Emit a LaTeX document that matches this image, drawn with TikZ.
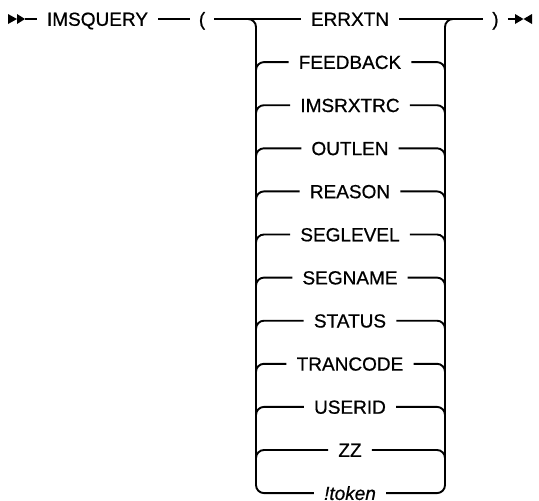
\documentclass[tikz,border=0pt]{standalone}
\usepackage{fontspec}
\setmainfont{Liberation Sans}[FakeBold=0.7, ItalicFeatures={FakeBold=0.7}]
\begin{document}
\begin{tikzpicture}[x=1pt,y=-1pt,
  ln/.style={line width=1.9pt},
  rr/.style={line width=1.9pt, rounded corners=8pt},
  lbl/.style={inner xsep=10pt, inner ysep=0pt, text height=13.6pt, text depth=0pt, font=\fontsize{19}{21}\selectfont},
  par/.style={inner xsep=9pt, inner ysep=0pt, text height=13.6pt, text depth=0pt, font=\fontsize{19}{21}\selectfont},
  tri/.style={fill=black, draw=none}]
\useasboundingbox (0,0) rectangle (539,501);
% start and end markers
\coordinate (st) at (25,19);
\fill[tri] (8,14) -- (17,19) -- (8,24) -- cycle;
\fill[tri] (17,14) -- (25,19) -- (17,24) -- cycle;
\coordinate (en) at (515,19);
\fill[tri] (515,14) -- (523.5,19) -- (515,24) -- cycle;
\fill[tri] (532,14) -- (523.5,19) -- (532,24) -- cycle;
% main nodes
\node[lbl] (imsq) at (97.5,19) {IMSQUERY};
\node[par] (lp) at (202,19) {(};
\node[par] (rp) at (495.5,19) {)};
% choice labels
\node[lbl] (r0) at (350,19) {ERRXTN};
\node[lbl] (r1) at (350,62.1) {FEEDBACK};
\node[lbl] (r2) at (350,105.2) {IMSRXTRC};
\node[lbl] (r3) at (350,148.3) {OUTLEN};
\node[lbl] (r4) at (350,191.4) {REASON};
\node[lbl] (r5) at (350,234.5) {SEGLEVEL};
\node[lbl] (r6) at (350,277.6) {SEGNAME};
\node[lbl] (r7) at (350,320.7) {STATUS};
\node[lbl] (r8) at (350,363.8) {TRANCODE};
\node[lbl] (r9) at (350,406.9) {USERID};
\node[lbl] (r10) at (350,450) {ZZ};
\node[lbl] (r11) at (350,493.1) {\itshape !token};
% main line
\draw[ln] (st) -- (imsq.west);
\draw[ln] (imsq.east) -- (lp.west);
\draw[ln] (lp.east) -- (r0.west);
\draw[ln] (r0.east) -- (rp.west);
\draw[ln] (rp.east) -- (en);
% rails
\coordinate (Ltop) at (240,19);
\coordinate (Rtop) at (462,19);
\draw[rr] (Ltop) -| (256,493.1) -- (r11.west);
\draw[rr] (r11.east) -| (445,19) -- (Rtop);
\foreach \i in {1,...,10}{
  \draw[rr] (r\i.west) -| ([yshift=-20pt]r\i.west -| 256,0);
  \draw[rr] (r\i.east) -| ([yshift=-20pt]r\i.east -| 445,0);
}
\end{tikzpicture}
\end{document}
